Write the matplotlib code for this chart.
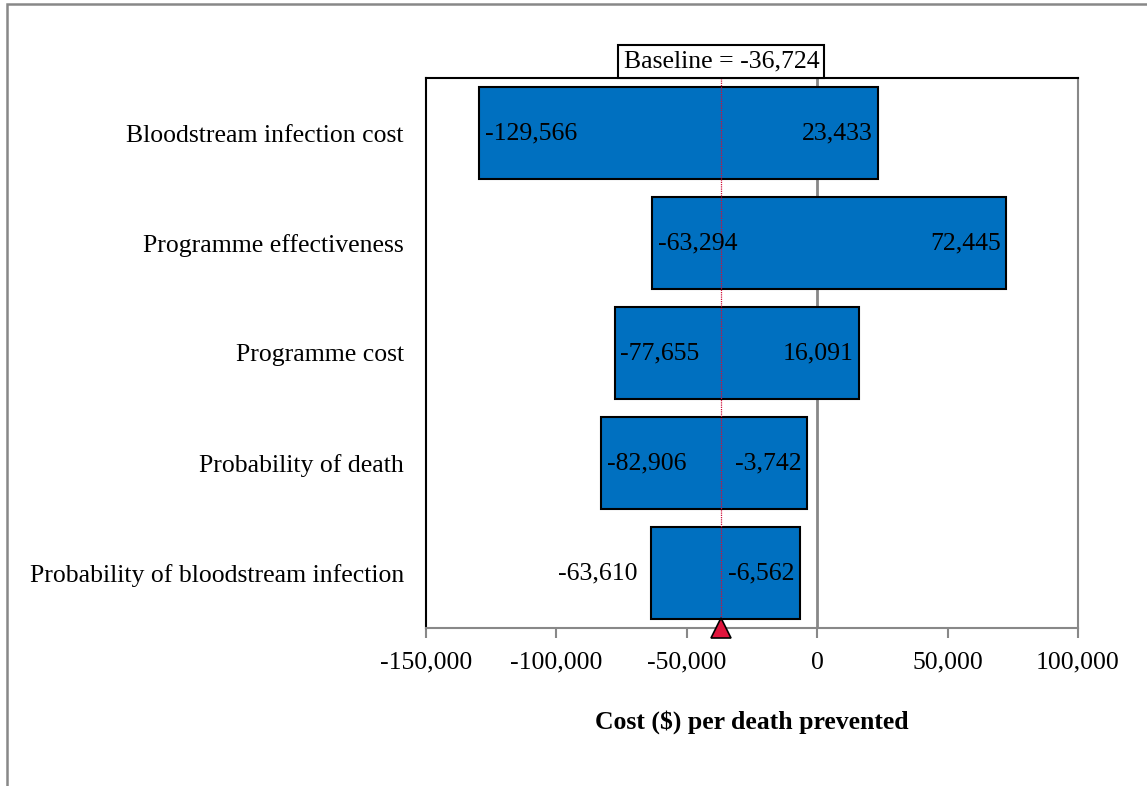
import matplotlib
matplotlib.use("Agg")
import matplotlib.pyplot as plt
from matplotlib.patches import Rectangle

plt.rcParams['font.family'] = ['Liberation Serif', 'DejaVu Serif']

# data
categories = ['Bloodstream infection cost', 'Programme effectiveness', 'Programme cost',
              'Probability of death', 'Probability of bloodstream infection']
low = [-129566, -63294, -77655, -82906, -63610]
high = [23433, 72445, 16091, -3742, -6562]
baseline = -36724
xticks = [-150000, -100000, -50000, 0, 50000, 100000]

fig = plt.figure(figsize=(11.47, 7.86), dpi=100)
ax = fig.add_axes([426/1147, 158/786, 652/1147, 550/786])

y = list(range(len(categories)))
widths = [h - l for l, h in zip(low, high)]
ax.barh(y, widths, left=low, height=0.84, color='#0070C0', edgecolor='black', linewidth=1.5, zorder=2)

# value labels
for i, (l, h) in enumerate(zip(low, high)):
    if i == 4:
        ax.annotate(f'{l:,}', (l, i), xytext=(-10, 0), textcoords='offset points',
                    ha='right', va='center', fontsize=18.5, zorder=4)
    else:
        ax.annotate(f'{l:,}', (l, i), xytext=(4, 0), textcoords='offset points',
                    ha='left', va='center', fontsize=18.5, zorder=4)
    ax.annotate(f'{h:,}', (h, i), xytext=(-4, 0), textcoords='offset points',
                ha='right', va='center', fontsize=18.5, zorder=4)

# zero line and baseline
ax.axvline(0, color='#888888', linewidth=2, zorder=1)
ax.axvline(baseline, color='#D0103A', linewidth=0.9, linestyle=(0, (1, 0.8)), zorder=3)
ax.plot([baseline], [4.5], marker='^', markersize=15, color='#E0143C',
        markeredgecolor='black', markeredgewidth=1.2, clip_on=False, zorder=5)
ax.annotate(f'Baseline = {baseline:,}', (baseline, 1.0), xycoords=('data', 'axes fraction'),
            xytext=(0, 4), textcoords='offset points', ha='center', va='bottom', fontsize=18.5,
            bbox=dict(boxstyle='square,pad=0.2', facecolor='white', edgecolor='black', linewidth=1.5))

ax.set_xlim(-150000, 100000)
ax.set_ylim(4.5, -0.5)
ax.set_xticks(xticks)
ax.set_xticklabels([f'{v:,}' for v in xticks], fontsize=18.5)
ax.set_yticks(y)
ax.set_yticklabels(categories, fontsize=18.5)
ax.tick_params(axis='y', length=0, pad=16)
ax.tick_params(axis='x', length=7, width=1.5, color='#888888', pad=10)
ax.set_xlabel('Cost ($) per death prevented', fontsize=18.5, fontweight='bold', labelpad=26)

ax.spines['left'].set_color('black')
ax.spines['top'].set_color('black')
ax.spines['right'].set_color('#888888')
ax.spines['bottom'].set_color('#888888')
for s in ax.spines.values():
    s.set_linewidth(1.5)

# outer chart border (cropped at right and bottom)
fig.patches.append(Rectangle((6.5/1147, -0.2), 1.5, 1.2 - 3.5/786, transform=fig.transFigure,
                             fill=False, edgecolor='#888888', linewidth=1.8))

fig.savefig('out.png', dpi=100)
